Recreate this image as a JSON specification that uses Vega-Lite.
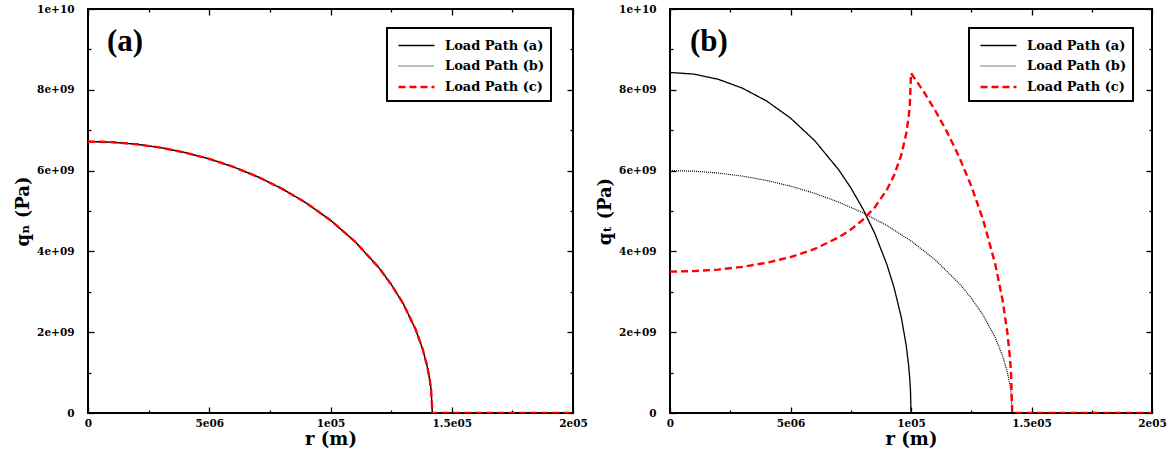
{
  "$schema": "https://vega.github.io/schema/vega-lite/v6.json",
  "padding": {"left": 13, "top": 3, "right": 5, "bottom": 5},
  "background": "white",
  "datasets": {
    "A": [
      {"r":0,"q":6.72e9,"s":"Load Path (a)"},{"r":10000,"q":6.703e9,"s":"Load Path (a)"},{"r":20000,"q":6.653e9,"s":"Load Path (a)"},{"r":30000,"q":6.568e9,"s":"Load Path (a)"},{"r":40000,"q":6.448e9,"s":"Load Path (a)"},{"r":50000,"q":6.29e9,"s":"Load Path (a)"},{"r":60000,"q":6.091e9,"s":"Load Path (a)"},{"r":70000,"q":5.847e9,"s":"Load Path (a)"},{"r":80000,"q":5.552e9,"s":"Load Path (a)"},{"r":90000,"q":5.198e9,"s":"Load Path (a)"},{"r":100000,"q":4.771e9,"s":"Load Path (a)"},{"r":110000,"q":4.25e9,"s":"Load Path (a)"},{"r":120000,"q":3.593e9,"s":"Load Path (a)"},{"r":125000,"q":3.188e9,"s":"Load Path (a)"},{"r":130000,"q":2.704e9,"s":"Load Path (a)"},{"r":135000,"q":2.084e9,"s":"Load Path (a)"},{"r":138000,"q":1.584e9,"s":"Load Path (a)"},{"r":140000,"q":1.124e9,"s":"Load Path (a)"},{"r":141000,"q":0.796e9,"s":"Load Path (a)"},{"r":141500,"q":0.564e9,"s":"Load Path (a)"},{"r":142000,"q":0,"s":"Load Path (a)"},{"r":200000,"q":0,"s":"Load Path (a)"},
      {"r":0,"q":6.72e9,"s":"Load Path (b)"},{"r":10000,"q":6.703e9,"s":"Load Path (b)"},{"r":20000,"q":6.653e9,"s":"Load Path (b)"},{"r":30000,"q":6.568e9,"s":"Load Path (b)"},{"r":40000,"q":6.448e9,"s":"Load Path (b)"},{"r":50000,"q":6.29e9,"s":"Load Path (b)"},{"r":60000,"q":6.091e9,"s":"Load Path (b)"},{"r":70000,"q":5.847e9,"s":"Load Path (b)"},{"r":80000,"q":5.552e9,"s":"Load Path (b)"},{"r":90000,"q":5.198e9,"s":"Load Path (b)"},{"r":100000,"q":4.771e9,"s":"Load Path (b)"},{"r":110000,"q":4.25e9,"s":"Load Path (b)"},{"r":120000,"q":3.593e9,"s":"Load Path (b)"},{"r":125000,"q":3.188e9,"s":"Load Path (b)"},{"r":130000,"q":2.704e9,"s":"Load Path (b)"},{"r":135000,"q":2.084e9,"s":"Load Path (b)"},{"r":138000,"q":1.584e9,"s":"Load Path (b)"},{"r":140000,"q":1.124e9,"s":"Load Path (b)"},{"r":141000,"q":0.796e9,"s":"Load Path (b)"},{"r":141500,"q":0.564e9,"s":"Load Path (b)"},{"r":142000,"q":0,"s":"Load Path (b)"},{"r":200000,"q":0,"s":"Load Path (b)"},
      {"r":0,"q":6.72e9,"s":"Load Path (c)"},{"r":10000,"q":6.703e9,"s":"Load Path (c)"},{"r":20000,"q":6.653e9,"s":"Load Path (c)"},{"r":30000,"q":6.568e9,"s":"Load Path (c)"},{"r":40000,"q":6.448e9,"s":"Load Path (c)"},{"r":50000,"q":6.29e9,"s":"Load Path (c)"},{"r":60000,"q":6.091e9,"s":"Load Path (c)"},{"r":70000,"q":5.847e9,"s":"Load Path (c)"},{"r":80000,"q":5.552e9,"s":"Load Path (c)"},{"r":90000,"q":5.198e9,"s":"Load Path (c)"},{"r":100000,"q":4.771e9,"s":"Load Path (c)"},{"r":110000,"q":4.25e9,"s":"Load Path (c)"},{"r":120000,"q":3.593e9,"s":"Load Path (c)"},{"r":125000,"q":3.188e9,"s":"Load Path (c)"},{"r":130000,"q":2.704e9,"s":"Load Path (c)"},{"r":135000,"q":2.084e9,"s":"Load Path (c)"},{"r":138000,"q":1.584e9,"s":"Load Path (c)"},{"r":140000,"q":1.124e9,"s":"Load Path (c)"},{"r":141000,"q":0.796e9,"s":"Load Path (c)"},{"r":141500,"q":0.564e9,"s":"Load Path (c)"},{"r":142000,"q":0,"s":"Load Path (c)"},{"r":200000,"q":0,"s":"Load Path (c)"}
    ],
    "B": [
      {"r":0,"q":8.43e9,"s":"Load Path (a)"},{"r":10000,"q":8.388e9,"s":"Load Path (a)"},{"r":20000,"q":8.26e9,"s":"Load Path (a)"},{"r":30000,"q":8.042e9,"s":"Load Path (a)"},{"r":40000,"q":7.726e9,"s":"Load Path (a)"},{"r":50000,"q":7.301e9,"s":"Load Path (a)"},{"r":60000,"q":6.744e9,"s":"Load Path (a)"},{"r":70000,"q":6.02e9,"s":"Load Path (a)"},{"r":75000,"q":5.576e9,"s":"Load Path (a)"},{"r":80000,"q":5.058e9,"s":"Load Path (a)"},{"r":85000,"q":4.441e9,"s":"Load Path (a)"},{"r":90000,"q":3.675e9,"s":"Load Path (a)"},{"r":93000,"q":3.099e9,"s":"Load Path (a)"},{"r":96000,"q":2.36e9,"s":"Load Path (a)"},{"r":98000,"q":1.678e9,"s":"Load Path (a)"},{"r":99000,"q":1.189e9,"s":"Load Path (a)"},{"r":99500,"q":0.842e9,"s":"Load Path (a)"},{"r":99800,"q":0.533e9,"s":"Load Path (a)"},{"r":100000,"q":0,"s":"Load Path (a)"},{"r":200000,"q":0,"s":"Load Path (a)"},
      {"r":0,"q":6.0e9,"s":"Load Path (b)"},{"r":10000,"q":5.985e9,"s":"Load Path (b)"},{"r":20000,"q":5.94e9,"s":"Load Path (b)"},{"r":30000,"q":5.865e9,"s":"Load Path (b)"},{"r":40000,"q":5.757e9,"s":"Load Path (b)"},{"r":50000,"q":5.616e9,"s":"Load Path (b)"},{"r":60000,"q":5.438e9,"s":"Load Path (b)"},{"r":70000,"q":5.22e9,"s":"Load Path (b)"},{"r":80000,"q":4.957e9,"s":"Load Path (b)"},{"r":90000,"q":4.641e9,"s":"Load Path (b)"},{"r":100000,"q":4.26e9,"s":"Load Path (b)"},{"r":110000,"q":3.794e9,"s":"Load Path (b)"},{"r":120000,"q":3.208e9,"s":"Load Path (b)"},{"r":125000,"q":2.847e9,"s":"Load Path (b)"},{"r":130000,"q":2.414e9,"s":"Load Path (b)"},{"r":135000,"q":1.861e9,"s":"Load Path (b)"},{"r":138000,"q":1.414e9,"s":"Load Path (b)"},{"r":140000,"q":1.004e9,"s":"Load Path (b)"},{"r":141000,"q":0.711e9,"s":"Load Path (b)"},{"r":141500,"q":0.503e9,"s":"Load Path (b)"},{"r":142000,"q":0,"s":"Load Path (b)"},{"r":200000,"q":0,"s":"Load Path (b)"},
      {"r":0,"q":3.5e9,"s":"Load Path (c)"},{"r":10000,"q":3.513e9,"s":"Load Path (c)"},{"r":20000,"q":3.55e9,"s":"Load Path (c)"},{"r":30000,"q":3.618e9,"s":"Load Path (c)"},{"r":40000,"q":3.717e9,"s":"Load Path (c)"},{"r":50000,"q":3.86e9,"s":"Load Path (c)"},{"r":60000,"q":4.06e9,"s":"Load Path (c)"},{"r":70000,"q":4.347e9,"s":"Load Path (c)"},{"r":75000,"q":4.539e9,"s":"Load Path (c)"},{"r":80000,"q":4.78e9,"s":"Load Path (c)"},{"r":85000,"q":5.094e9,"s":"Load Path (c)"},{"r":90000,"q":5.526e9,"s":"Load Path (c)"},{"r":93000,"q":5.886e9,"s":"Load Path (c)"},{"r":96000,"q":6.394e9,"s":"Load Path (c)"},{"r":98000,"q":6.913e9,"s":"Load Path (c)"},{"r":99000,"q":7.317e9,"s":"Load Path (c)"},{"r":99500,"q":7.621e9,"s":"Load Path (c)"},{"r":100000,"q":8.413e9,"s":"Load Path (c)"},{"r":105000,"q":7.978e9,"s":"Load Path (c)"},{"r":110000,"q":7.494e9,"s":"Load Path (c)"},{"r":115000,"q":6.952e9,"s":"Load Path (c)"},{"r":120000,"q":6.336e9,"s":"Load Path (c)"},{"r":125000,"q":5.622e9,"s":"Load Path (c)"},{"r":130000,"q":4.768e9,"s":"Load Path (c)"},{"r":135000,"q":3.675e9,"s":"Load Path (c)"},{"r":138000,"q":2.793e9,"s":"Load Path (c)"},{"r":140000,"q":1.982e9,"s":"Load Path (c)"},{"r":141000,"q":1.404e9,"s":"Load Path (c)"},{"r":141500,"q":0.994e9,"s":"Load Path (c)"},{"r":142000,"q":0,"s":"Load Path (c)"},{"r":200000,"q":0,"s":"Load Path (c)"}
    ],
    "one": [{}]
  },
  "hconcat": [
    {
      "width": 485,
      "height": 404,
      "layer": [
        {
          "data": {"name": "A"},
          "mark": {"type": "line", "clip": true},
          "encoding": {
            "x": {"field": "r", "type": "quantitative", "scale": {"domain": [0, 200000], "nice": false, "zero": false},
                  "axis": {"orient": "bottom", "values": [0, 50000, 100000, 150000, 200000], "tickSize": -6, "labelPadding": 11, "labelExpr": "datum.value == 0 ? '0' : datum.value == 50000 ? '5e06' : datum.value == 100000 ? '1e05' : datum.value == 150000 ? '1.5e05' : '2e05'", "title": "r (m)", "titlePadding": 2}},
            "y": {"field": "q", "type": "quantitative", "scale": {"domain": [0, 10000000000], "nice": false},
                  "axis": {"orient": "left", "values": [0, 2000000000, 4000000000, 6000000000, 8000000000, 10000000000], "tickSize": -6, "labelPadding": 20, "labelExpr": "datum.value == 0 ? '0' : datum.value == 10000000000 ? '1e+10' : (datum.value / 1000000000) + 'e+09'", "title": "qₙ (Pa)", "titlePadding": 4}},
            "color": {"field": "s", "type": "nominal", "title": null, "scale": {"domain": ["Load Path (a)", "Load Path (b)", "Load Path (c)"], "range": ["#000000", "#000000", "#ff0000"]}},
            "strokeDash": {"field": "s", "type": "nominal", "title": null, "scale": {"domain": ["Load Path (a)", "Load Path (b)", "Load Path (c)"], "range": [[1, 0], [1, 1], [7, 4]]}},
            "strokeWidth": {"field": "s", "type": "nominal", "title": null, "scale": {"type": "ordinal", "domain": ["Load Path (a)", "Load Path (b)", "Load Path (c)"], "range": [1.3, 1.2, 2.4]}}
          }
        },
        {
          "data": {"name": "A"},
          "mark": {"type": "line", "opacity": 0},
          "encoding": {
            "x": {"field": "r", "type": "quantitative", "scale": {"domain": [0, 200000], "nice": false, "zero": false},
                  "axis": {"orient": "bottom", "values": [25000, 75000, 125000, 175000], "tickSize": -3, "labels": false, "title": null}},
            "y": {"field": "q", "type": "quantitative", "scale": {"domain": [0, 10000000000], "nice": false},
                  "axis": {"orient": "left", "values": [1000000000, 3000000000, 5000000000, 7000000000, 9000000000], "tickSize": -3, "labels": false, "title": null}}
          }
        },
        {
          "data": {"name": "A"},
          "mark": {"type": "line", "opacity": 0},
          "encoding": {
            "x": {"field": "r", "type": "quantitative", "scale": {"domain": [0, 200000], "nice": false, "zero": false},
                  "axis": {"orient": "top", "values": [0, 50000, 100000, 150000, 200000], "tickSize": -6, "labels": false, "title": null}},
            "y": {"field": "q", "type": "quantitative", "scale": {"domain": [0, 10000000000], "nice": false},
                  "axis": {"orient": "right", "values": [0, 2000000000, 4000000000, 6000000000, 8000000000, 10000000000], "tickSize": -6, "labels": false, "title": null}}
          }
        },
        {
          "data": {"name": "A"},
          "mark": {"type": "line", "opacity": 0},
          "encoding": {
            "x": {"field": "r", "type": "quantitative", "scale": {"domain": [0, 200000], "nice": false, "zero": false},
                  "axis": {"orient": "top", "values": [25000, 75000, 125000, 175000], "tickSize": -3, "labels": false, "title": null}},
            "y": {"field": "q", "type": "quantitative", "scale": {"domain": [0, 10000000000], "nice": false},
                  "axis": {"orient": "right", "values": [1000000000, 3000000000, 5000000000, 7000000000, 9000000000], "tickSize": -3, "labels": false, "title": null}}
          }
        },
        {
          "data": {"name": "one"},
          "mark": {"type": "text", "text": "(a)", "align": "left", "baseline": "alphabetic", "font": "Liberation Serif", "fontWeight": "bold", "fontSize": 31, "color": "#000000"},
          "encoding": {
            "x": {"datum": 7800, "type": "quantitative", "axis": null},
            "y": {"datum": 8970000000, "type": "quantitative", "axis": null}
          }
        }
      ],
      "resolve": {"axis": {"x": "independent", "y": "independent"}}
    },
    {
      "width": 482,
      "height": 404,
      "layer": [
        {
          "data": {"name": "B"},
          "mark": {"type": "line", "clip": true},
          "encoding": {
            "x": {"field": "r", "type": "quantitative", "scale": {"domain": [0, 200000], "nice": false, "zero": false},
                  "axis": {"orient": "bottom", "values": [0, 50000, 100000, 150000, 200000], "tickSize": -6, "labelPadding": 11, "labelExpr": "datum.value == 0 ? '0' : datum.value == 50000 ? '5e06' : datum.value == 100000 ? '1e05' : datum.value == 150000 ? '1.5e05' : '2e05'", "title": "r (m)", "titlePadding": 2}},
            "y": {"field": "q", "type": "quantitative", "scale": {"domain": [0, 10000000000], "nice": false},
                  "axis": {"orient": "left", "values": [0, 2000000000, 4000000000, 6000000000, 8000000000, 10000000000], "tickSize": -6, "labelPadding": 20, "labelExpr": "datum.value == 0 ? '0' : datum.value == 10000000000 ? '1e+10' : (datum.value / 1000000000) + 'e+09'", "title": "qₜ (Pa)", "titlePadding": 4}},
            "color": {"field": "s", "type": "nominal", "title": null, "scale": {"domain": ["Load Path (a)", "Load Path (b)", "Load Path (c)"], "range": ["#000000", "#000000", "#ff0000"]}},
            "strokeDash": {"field": "s", "type": "nominal", "title": null, "scale": {"domain": ["Load Path (a)", "Load Path (b)", "Load Path (c)"], "range": [[1, 0], [1, 1], [7, 4]]}},
            "strokeWidth": {"field": "s", "type": "nominal", "title": null, "scale": {"type": "ordinal", "domain": ["Load Path (a)", "Load Path (b)", "Load Path (c)"], "range": [1.3, 1.2, 2.4]}}
          }
        },
        {
          "data": {"name": "B"},
          "mark": {"type": "line", "opacity": 0},
          "encoding": {
            "x": {"field": "r", "type": "quantitative", "scale": {"domain": [0, 200000], "nice": false, "zero": false},
                  "axis": {"orient": "bottom", "values": [25000, 75000, 125000, 175000], "tickSize": -3, "labels": false, "title": null}},
            "y": {"field": "q", "type": "quantitative", "scale": {"domain": [0, 10000000000], "nice": false},
                  "axis": {"orient": "left", "values": [1000000000, 3000000000, 5000000000, 7000000000, 9000000000], "tickSize": -3, "labels": false, "title": null}}
          }
        },
        {
          "data": {"name": "B"},
          "mark": {"type": "line", "opacity": 0},
          "encoding": {
            "x": {"field": "r", "type": "quantitative", "scale": {"domain": [0, 200000], "nice": false, "zero": false},
                  "axis": {"orient": "top", "values": [0, 50000, 100000, 150000, 200000], "tickSize": -6, "labels": false, "title": null}},
            "y": {"field": "q", "type": "quantitative", "scale": {"domain": [0, 10000000000], "nice": false},
                  "axis": {"orient": "right", "values": [0, 2000000000, 4000000000, 6000000000, 8000000000, 10000000000], "tickSize": -6, "labels": false, "title": null}}
          }
        },
        {
          "data": {"name": "B"},
          "mark": {"type": "line", "opacity": 0},
          "encoding": {
            "x": {"field": "r", "type": "quantitative", "scale": {"domain": [0, 200000], "nice": false, "zero": false},
                  "axis": {"orient": "top", "values": [25000, 75000, 125000, 175000], "tickSize": -3, "labels": false, "title": null}},
            "y": {"field": "q", "type": "quantitative", "scale": {"domain": [0, 10000000000], "nice": false},
                  "axis": {"orient": "right", "values": [1000000000, 3000000000, 5000000000, 7000000000, 9000000000], "tickSize": -3, "labels": false, "title": null}}
          }
        },
        {
          "data": {"name": "one"},
          "mark": {"type": "text", "text": "(b)", "align": "left", "baseline": "alphabetic", "font": "Liberation Serif", "fontWeight": "bold", "fontSize": 31, "color": "#000000"},
          "encoding": {
            "x": {"datum": 8300, "type": "quantitative", "axis": null},
            "y": {"datum": 8970000000, "type": "quantitative", "axis": null}
          }
        }
      ],
      "resolve": {"axis": {"x": "independent", "y": "independent"}}
    }
  ],
  "resolve": {
    "scale": {"color": "independent", "strokeDash": "independent", "strokeWidth": "independent"},
    "legend": {"color": "independent", "strokeDash": "independent", "strokeWidth": "independent"}
  },
  "config": {
    "concat": {"spacing": 6},
    "view": {"stroke": "#000000", "strokeWidth": 2},
    "axis": {
      "domain": false, "grid": false, "labelFlush": false, "labelOverlap": false,
      "tickColor": "#000000", "tickWidth": 1.3,
      "labelFont": "DejaVu Serif", "labelFontWeight": "bold", "labelFontSize": 10.5, "labelColor": "#000000",
      "titleFont": "DejaVu Serif", "titleFontWeight": "bold", "titleFontSize": 18, "titleColor": "#000000"
    },
    "legend": {
      "orient": "none", "legendX": 299, "legendY": 19,
      "strokeColor": "#000000", "strokeWidth": 2, "fillColor": "#ffffff", "padding": 6.5,
      "symbolType": "M -1.8 0 H 1.8", "symbolSize": 400, "symbolOffset": 11.5, "labelOffset": 17, "rowPadding": 2.5,
      "labelFont": "DejaVu Serif", "labelFontWeight": "bold", "labelFontSize": 13, "labelColor": "#000000", "labelLimit": 300
    }
  }
}
